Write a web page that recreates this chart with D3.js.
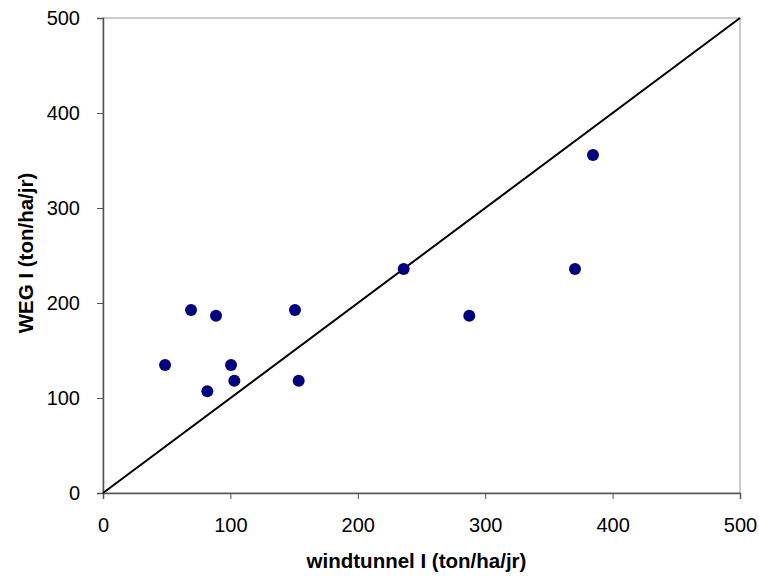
<!DOCTYPE html>
<html><head><meta charset="utf-8">
<script src="https://cdn.jsdelivr.net/npm/d3@7"></script>
<style>body{margin:0;background:#fff}svg{display:block}</style>
</head><body>
<script>
const xValues = [48.7, 69.1, 88.7, 81.9, 100.5, 103.1, 150.7, 153.6, 236.0, 287.5, 370.5, 384.6];
const yValues = [134.7, 192.6, 186.6, 107.1, 134.7, 118.2, 192.6, 118.2, 235.8, 186.6, 235.8, 355.8];
const tickValues = [0, 100, 200, 300, 400, 500];
const lineX = [0, 500];
const lineY = [0, 500];
const xTitle = "windtunnel I (ton/ha/jr)";
const yTitle = "WEG I (ton/ha/jr)";

const W = 759, H = 577;
const m = {left: 103, right: 19, top: 18, bottom: 84};
const FONT = "Liberation Sans, Arial, sans-serif";
const svg = d3.select("body").append("svg").attr("width", W).attr("height", H);
const x = d3.scaleLinear().domain([0, 500]).range([m.left, W - m.right]);
const y = d3.scaleLinear().domain([0, 500]).range([H - m.bottom, m.top]);

svg.append("rect").attr("x", x(0)).attr("y", y(500)).attr("width", x(500) - x(0)).attr("height", y(0) - y(500))
  .attr("fill", "none").attr("stroke", "#999").attr("stroke-width", 1);

const xAxis = svg.append("g").attr("transform", `translate(0,${y(0)})`)
  .call(d3.axisBottom(x).tickValues(tickValues).tickSize(6).tickPadding(19).tickFormat(d3.format("d")));
const yAxis = svg.append("g").attr("transform", `translate(${x(0)},0)`)
  .call(d3.axisLeft(y).tickValues(tickValues).tickSize(6).tickPadding(17).tickFormat(d3.format("d")));
[xAxis, yAxis].forEach(a => {
  a.attr("font-size", 20).attr("font-family", FONT);
  a.select(".domain").attr("stroke", "#555").attr("stroke-width", 1.5);
  a.selectAll(".tick line").attr("stroke", "#555");
  a.selectAll("text").attr("fill", "#000");
});

svg.append("line").attr("x1", x(lineX[0])).attr("y1", y(lineY[0])).attr("x2", x(lineX[1])).attr("y2", y(lineY[1]))
  .attr("stroke", "#000").attr("stroke-width", 2);

svg.append("g").selectAll("circle").data(xValues.map((v, i) => [v, yValues[i]])).join("circle")
  .attr("cx", d => x(d[0])).attr("cy", d => y(d[1])).attr("r", 6).attr("fill", "#000080");

svg.append("text").attr("x", (x(0) + x(500)) / 2 - 5).attr("y", 568).attr("text-anchor", "middle")
  .attr("font-family", FONT).attr("font-size", 20.5).attr("font-weight", "bold").text(xTitle);
svg.append("text").attr("transform", `translate(33,253) rotate(-90)`).attr("text-anchor", "middle")
  .attr("font-family", FONT).attr("font-size", 20.5).attr("font-weight", "bold").text(yTitle);
</script>
</body></html>
